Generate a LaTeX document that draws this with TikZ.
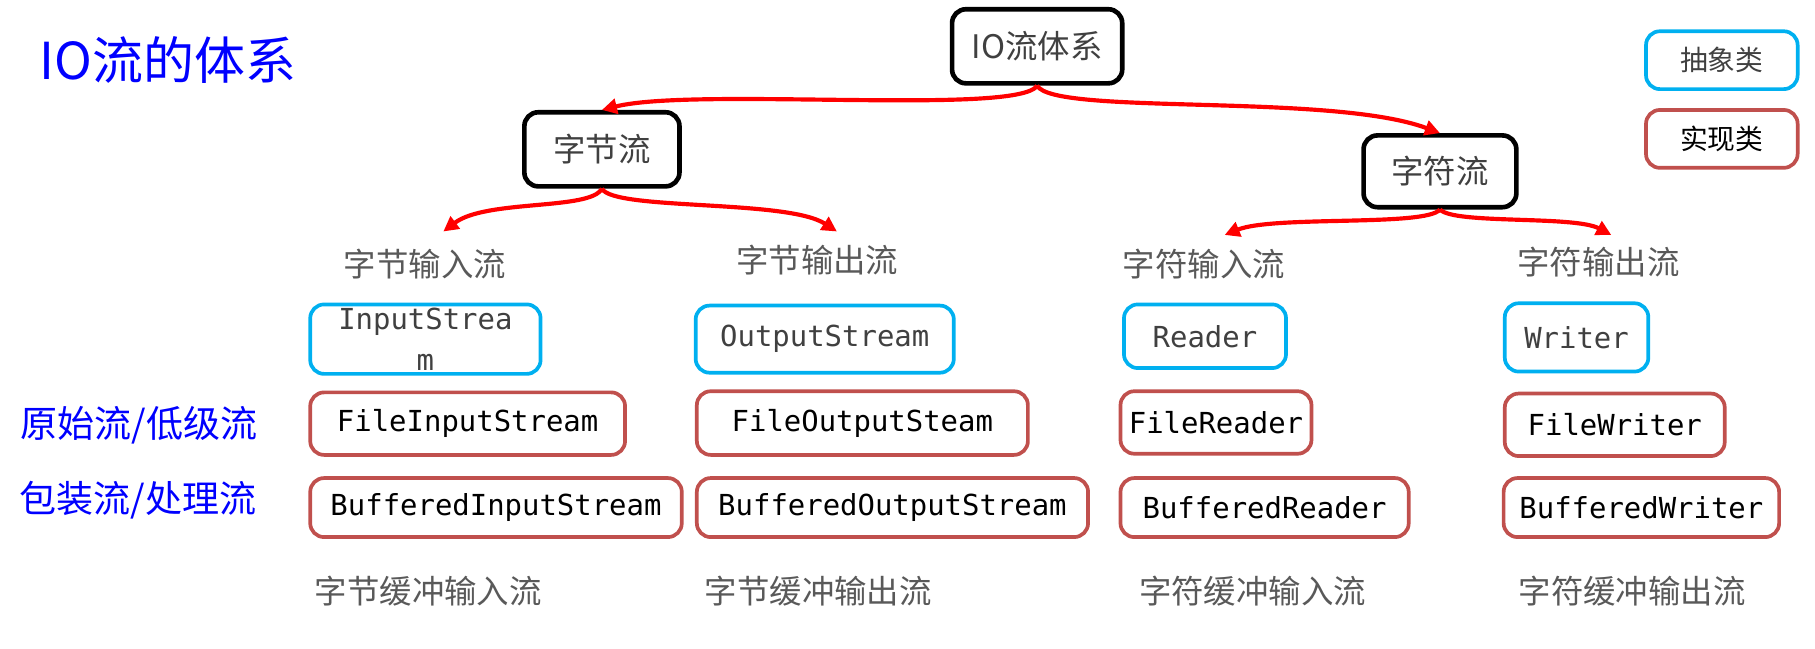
\documentclass[tikz,border=0pt]{standalone}
\usepackage{fontspec}
\setmainfont{Liberation Serif}
\newfontfamily\cjk{Noto Sans CJK SC}
\newfontfamily\code{DejaVu Sans Mono}
\usetikzlibrary{arrows.meta}
\definecolor{absblue}{HTML}{00B0F0}
\definecolor{implred}{HTML}{C0504D}
\definecolor{txtgray}{HTML}{404040}
\definecolor{lblgray}{HTML}{595959}
\tikzset{
  topbox/.style={draw=black, line width=2pt, rounded corners=6pt, inner sep=0pt,
    font=\cjk\fontsize{14}{16}\selectfont, text=txtgray},
  legbox/.style={line width=1.6pt, rounded corners=6pt, inner sep=0pt,
    minimum width=65.5pt, minimum height=25pt, font=\cjk\fontsize{12}{14}\selectfont},
  absbox/.style={draw=absblue, line width=1.6pt, rounded corners=6pt, inner sep=0pt,
    font=\code\fontsize{12.5}{17.5}\selectfont, text=txtgray, align=center},
  implbox/.style={draw=implred, line width=1.6pt, rounded corners=6pt, inner sep=0pt,
    font=\code\fontsize{12.5}{17}\selectfont, text=black},
  lbl/.style={font=\cjk\fontsize{14}{16}\selectfont, text=lblgray, inner sep=0pt},
  side/.style={font=\cjk\fontsize{16}{18}\selectfont, text=blue, inner sep=0pt},
  flow/.style={draw=red, line width=1.8pt, -{Triangle[length=6.5pt,width=6.5pt]}}
}
\begin{document}
\begin{tikzpicture}[x=0.5pt,y=-0.5pt]
\useasboundingbox (0,0) rectangle (1568,560);
% title
\node[font=\cjk\fontsize{22}{24}\selectfont, text=blue, inner sep=0pt] (title) at (145,52) {IO流的体系};
% top boxes
\node[topbox, minimum width=73.5pt, minimum height=32pt] (io) at (896,40) {IO流体系};
\node[topbox, minimum width=67pt, minimum height=32pt] (zj) at (520,129) {字节流};
\node[topbox, minimum width=66pt, minimum height=31pt] (zf) at (1244,148) {字符流};
% legend
\node[legbox, draw=absblue, text=txtgray] (legA) at (1487.5,52) {抽象类};
\node[legbox, draw=implred, text=black] (legB) at (1487.5,120) {实现类};
% category labels
\node[lbl] (l1) at (367,228) {字节输入流};
\node[lbl] (l2) at (706,225) {字节输出流};
\node[lbl] (l3) at (1040,228) {字符输入流};
\node[lbl] (l4) at (1381,226) {字符输出流};
% abstract classes
\node[absbox, minimum width=99.5pt, minimum height=30pt] (is) at (367.5,293) {InputStrea\\m};
\node[absbox, minimum width=111.5pt, minimum height=29pt] (os) at (712.5,293) {OutputStream};
\node[absbox, minimum width=70pt, minimum height=27.5pt] (rd) at (1041,290.5) {Reader};
\node[absbox, minimum width=62pt, minimum height=29.5pt] (wr) at (1362,291.5) {Writer};
% file classes
\node[implbox, minimum width=136pt, minimum height=27pt] (fis) at (404,366) {FileInputStream};
\node[implbox, minimum width=143pt, minimum height=27.5pt] (fos) at (745,365.5) {FileOutputSteam};
\node[implbox, minimum width=82.5pt, minimum height=27pt] (fr) at (1050.5,365) {FileReader};
\node[implbox, minimum width=95pt, minimum height=27pt] (fw) at (1395,367) {FileWriter};
% buffered classes
\node[implbox, minimum width=160.5pt, minimum height=25.5pt] (bis) at (428.5,438.5) {BufferedInputStream};
\node[implbox, minimum width=169pt, minimum height=25.5pt] (bos) at (771,438.5) {BufferedOutputStream};
\node[implbox, minimum width=124.5pt, minimum height=25.5pt] (br) at (1092.5,438.5) {BufferedReader};
\node[implbox, minimum width=119pt, minimum height=25.5pt] (bw) at (1418,438.5) {BufferedWriter};
% bottom labels
\node[lbl] (b1) at (370,511) {字节缓冲输入流};
\node[lbl] (b2) at (707,511) {字节缓冲输出流};
\node[lbl] (b3) at (1082,511) {字符缓冲输入流};
\node[lbl] (b4) at (1410,511) {字符缓冲输出流};
% side labels
\node[side] (s1) at (120,367) {原始流/低级流};
\node[side] (s2) at (119,432) {包装流/处理流};
% arrow end points
\coordinate (t1) at (383,200);
\coordinate (t2) at (723,200);
\coordinate (t3) at (1058,203);
\coordinate (t4) at (1392,203);
% arrows
\draw[flow] (io.south) .. controls (880,100) and (600,75) .. (zj.north);
\draw[flow] (io.south) .. controls (910,100) and (1150,80) .. (zf.north);
\draw[flow] (zj.south) .. controls (510,182) and (420,172) .. (t1);
\draw[flow] (zj.south) .. controls (530,182) and (680,172) .. (t2);
\draw[flow] (zf.south) .. controls (1232,196) and (1100,186) .. (t3);
\draw[flow] (zf.south) .. controls (1256,194) and (1360,186) .. (t4);
\end{tikzpicture}
\end{document}
